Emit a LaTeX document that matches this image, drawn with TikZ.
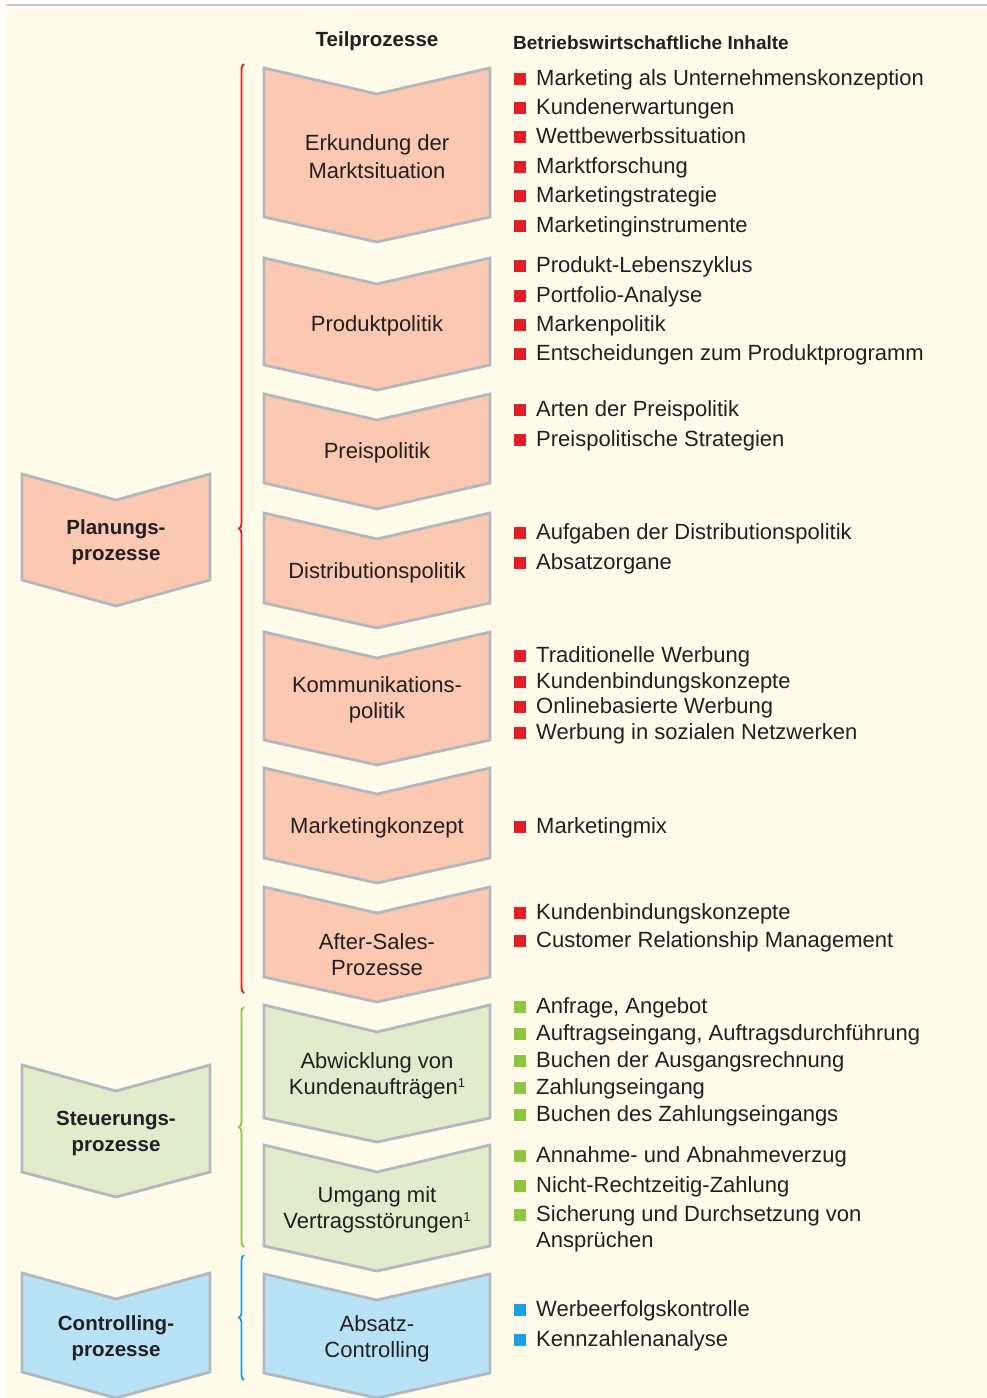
\documentclass[tikz,border=0pt]{standalone}
\usepackage{fontspec}
\setmainfont{Liberation Sans}
\usepackage{xcolor}
\usetikzlibrary{positioning, decorations.pathreplacing}

\definecolor{paper}{HTML}{FFFBEA}
\definecolor{rulegray}{HTML}{C4C4C8}
\definecolor{chevgray}{HTML}{B3B7BE}
\definecolor{salmon}{HTML}{FBC8B1}
\definecolor{palegreen}{HTML}{E1ECCD}
\definecolor{paleblue}{HTML}{B8E3F7}
\definecolor{markred}{HTML}{E31E24}
\definecolor{markgreen}{HTML}{8DC63F}
\definecolor{markblue}{HTML}{1BA0E2}
\definecolor{ink}{HTML}{231F20}

\newcommand{\sqbullet}[1]{\textcolor{#1}{\rule{12pt}{12pt}}\hspace{10pt}}
\newcommand{\fnmark}{\raisebox{7pt}{\fontsize{13}{13}\selectfont 1}}

\begin{document}
\begin{tikzpicture}[x=1pt, y=-1pt,
    chev/.style={draw=chevgray, line width=2.8pt, line join=miter},
    subtext/.style={text=ink, align=center, inner sep=0pt,
      font=\fontsize{22}{26}\selectfont},
    maintext/.style={text=ink, align=center, inner sep=0pt,
      font=\fontsize{20.5}{26}\selectfont\bfseries},
    head/.style={text=ink, inner sep=0pt, font=\fontsize{20.5}{24}\selectfont\bfseries},
    item/.style={text=ink, anchor=base west, inner sep=0pt,
      font=\fontsize{22}{26}\selectfont},
    bracket/.style={decorate, decoration={brace, amplitude=5pt}, line width=1.8pt}]

    \useasboundingbox (0,0) rectangle (987,1398);

    % Page background and top rule
    \fill[paper] (6,7) rectangle (987,1398);
    \draw[rulegray, line width=2pt] (6,5) -- (987,5);

    % Column headings
    \node[head, anchor=base] (hteil) at (377,46) {Teilprozesse};
    \node[head, anchor=base west, font=\fontsize{19}{24}\selectfont\bfseries] (hinhalt) at (513,49) {Betriebswirtschaftliche Inhalte};

    % Left column: main processes
    \draw[chev, fill=salmon] (22,474) -- (116,500) -- (210,474) -- (210,580) -- (116,606) -- (22,580) -- cycle;
    \node[maintext] (planung) at (116,542) {Planungs-\\prozesse};

    \draw[chev, fill=palegreen] (22,1065) -- (116,1091) -- (210,1065) -- (210,1172) -- (116,1197) -- (22,1172) -- cycle;
    \node[maintext] (steuerung) at (116,1133) {Steuerungs-\\prozesse};

    \draw[chev, fill=paleblue] (22,1273) -- (116,1299) -- (210,1273) -- (210,1372) -- (116,1398) -- (22,1372) -- cycle;
    \node[maintext] (controlling) at (116,1338) {Controlling-\\prozesse};

    % Braces grouping the sub-processes
    \coordinate (rtop) at (244,64);
    \coordinate (rbot) at (244,993);
    \coordinate (gtop) at (244,1007);
    \coordinate (gbot) at (244,1247);
    \coordinate (btop) at (244,1255);
    \coordinate (bbot) at (244,1380);
    \draw[bracket, markred] (rbot) -- (rtop);
    \draw[bracket, markgreen] (gbot) -- (gtop);
    \draw[bracket, markblue] (bbot) -- (btop);

    % Middle column: sub-processes
    \draw[chev, fill=salmon] (264,68) -- (377,94) -- (490,68) -- (490,217) -- (377,242) -- (264,217) -- cycle;
    \node[subtext, font=\fontsize{22}{28}\selectfont] (erkundung) at (377,157) {Erkundung der\\Marktsituation};

    \draw[chev, fill=salmon] (264,258) -- (377,284) -- (490,258) -- (490,365) -- (377,390) -- (264,365) -- cycle;
    \node[subtext] (produkt) at (377,326) {Produktpolitik};

    \draw[chev, fill=salmon] (264,394) -- (377,420) -- (490,394) -- (490,483) -- (377,509) -- (264,483) -- cycle;
    \node[subtext] (preis) at (377,453) {Preispolitik};

    \draw[chev, fill=salmon] (264,513) -- (377,539) -- (490,513) -- (490,603) -- (377,628) -- (264,603) -- cycle;
    \node[subtext] (distribution) at (377,573) {Distributionspolitik};

    \draw[chev, fill=salmon] (264,632) -- (377,658) -- (490,632) -- (490,740) -- (377,765) -- (264,740) -- cycle;
    \node[subtext] (kommunikation) at (377,700) {Kommunikations-\\politik};

    \draw[chev, fill=salmon] (264,768) -- (377,794) -- (490,768) -- (490,858) -- (377,883) -- (264,858) -- cycle;
    \node[subtext] (konzept) at (377,828) {Marketingkonzept};

    \draw[chev, fill=salmon] (264,887) -- (377,913) -- (490,887) -- (490,977) -- (377,1002) -- (264,977) -- cycle;
    \node[subtext] (aftersales) at (377,955) {After-Sales-\\Prozesse};

    \draw[chev, fill=palegreen] (264,1005) -- (377,1032) -- (490,1005) -- (490,1118) -- (377,1142) -- (264,1118) -- cycle;
    \node[subtext] (abwicklung) at (377,1076) {Abwicklung von\\Kundenaufträgen\fnmark};

    \draw[chev, fill=palegreen] (264,1145) -- (377,1172) -- (490,1145) -- (490,1246) -- (377,1271) -- (264,1246) -- cycle;
    \node[subtext] (umgang) at (377,1210) {Umgang mit\\Vertragsstörungen\fnmark};

    \draw[chev, fill=paleblue] (264,1274) -- (377,1300) -- (490,1274) -- (490,1373) -- (377,1398) -- (264,1373) -- cycle;
    \node[subtext] (absatzctrl) at (377,1339) {Absatz-\\Controlling};

    % Right column: contents
    \node[item] (i1) at (514,85) {\sqbullet{markred}Marketing als Unternehmenskonzeption};
    \node[item] (i2) at (514,114) {\sqbullet{markred}Kundenerwartungen};
    \node[item] (i3) at (514,143) {\sqbullet{markred}Wettbewerbssituation};
    \node[item] (i4) at (514,173) {\sqbullet{markred}Marktforschung};
    \node[item] (i5) at (514,202) {\sqbullet{markred}Marketingstrategie};
    \node[item] (i6) at (514,232) {\sqbullet{markred}Marketinginstrumente};

    \node[item] (i7) at (514,272) {\sqbullet{markred}Produkt-Lebenszyklus};
    \node[item] (i8) at (514,302) {\sqbullet{markred}Portfolio-Analyse};
    \node[item] (i9) at (514,331) {\sqbullet{markred}Markenpolitik};
    \node[item] (i10) at (514,360) {\sqbullet{markred}Entscheidungen zum Produktprogramm};

    \node[item] (i11) at (514,416) {\sqbullet{markred}Arten der Preispolitik};
    \node[item] (i12) at (514,446) {\sqbullet{markred}Preispolitische Strategien};

    \node[item] (i13) at (514,539) {\sqbullet{markred}Aufgaben der Distributionspolitik};
    \node[item] (i14) at (514,569) {\sqbullet{markred}Absatzorgane};

    \node[item] (i15) at (514,662) {\sqbullet{markred}Traditionelle Werbung};
    \node[item] (i16) at (514,688) {\sqbullet{markred}Kundenbindungskonzepte};
    \node[item] (i17) at (514,713) {\sqbullet{markred}Onlinebasierte Werbung};
    \node[item] (i18) at (514,739) {\sqbullet{markred}Werbung in sozialen Netzwerken};

    \node[item] (i19) at (514,833) {\sqbullet{markred}Marketingmix};

    \node[item] (i20) at (514,919) {\sqbullet{markred}Kundenbindungskonzepte};
    \node[item] (i21) at (514,947) {\sqbullet{markred}Customer Relationship Management};

    \node[item] (i22) at (514,1013) {\sqbullet{markgreen}Anfrage, Angebot};
    \node[item] (i23) at (514,1040) {\sqbullet{markgreen}Auftragseingang, Auftragsdurchführung};
    \node[item] (i24) at (514,1067) {\sqbullet{markgreen}Buchen der Ausgangsrechnung};
    \node[item] (i25) at (514,1094) {\sqbullet{markgreen}Zahlungseingang};
    \node[item] (i26) at (514,1121) {\sqbullet{markgreen}Buchen des Zahlungseingangs};

    \node[item] (i27) at (514,1162) {\sqbullet{markgreen}Annahme- und Abnahmeverzug};
    \node[item] (i28) at (514,1192) {\sqbullet{markgreen}Nicht-Rechtzeitig-Zahlung};
    \node[item] (i29) at (514,1221) {\sqbullet{markgreen}Sicherung und Durchsetzung von};
    \node[item] (i30) at (536,1247) {Ansprüchen};

    \node[item] (i31) at (514,1316) {\sqbullet{markblue}Werbeerfolgskontrolle};
    \node[item] (i32) at (514,1346) {\sqbullet{markblue}Kennzahlenanalyse};

\end{tikzpicture}
\end{document}
